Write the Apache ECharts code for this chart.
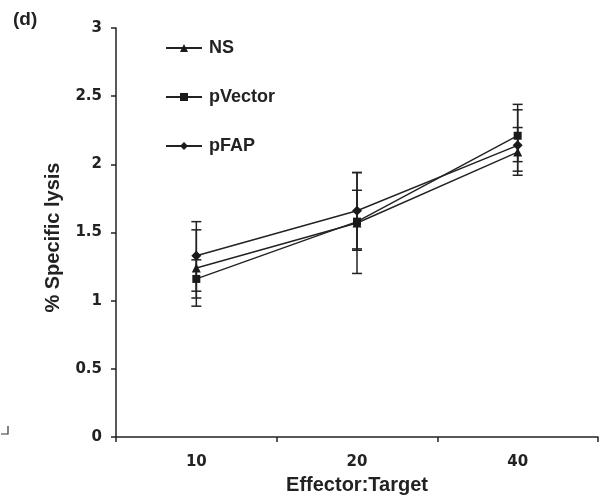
<!DOCTYPE html>
<html>
<head>
    <meta charset="utf-8">
    <title>ECharts</title>
    <script src="https://cdn.jsdelivr.net/npm/echarts@6/dist/echarts.min.js"></script>
</head>
<body style="margin:0">
    <div id="main" style="width: 609px;height:500px;"></div>
    <script type="text/javascript">
        var categories = ['10', '20', '40'];

        var nsMean = [1.24, 1.57, 2.09];
        var nsLow = [0.96, 1.20, 1.92];
        var nsHigh = [1.52, 1.94, 2.27];

        var pVectorMean = [1.16, 1.58, 2.21];
        var pVectorLow = [1.02, 1.37, 1.95];
        var pVectorHigh = [1.30, 1.81, 2.44];

        var pFapMean = [1.33, 1.66, 2.14];
        var pFapLow = [1.07, 1.38, 2.02];
        var pFapHigh = [1.58, 1.94, 2.40];

        var myChart = echarts.init(document.getElementById('main'));

        // 误差线: 竖线加上下短横
        function errorBars(low, high) {
            return {
                type: 'custom',
                silent: true,
                z: 1,
                data: categories.map(function (c, i) { return [i, low[i], high[i]]; }),
                renderItem: function (params, api) {
                    var lo = api.coord([api.value(0), api.value(1)]);
                    var hi = api.coord([api.value(0), api.value(2)]);
                    var w = 5;
                    var st = { stroke: '#222', lineWidth: 1.5 };
                    return {
                        type: 'group',
                        children: [
                            { type: 'line', shape: { x1: lo[0], y1: lo[1], x2: hi[0], y2: hi[1] }, style: st },
                            { type: 'line', shape: { x1: lo[0] - w, y1: lo[1], x2: lo[0] + w, y2: lo[1] }, style: st },
                            { type: 'line', shape: { x1: hi[0] - w, y1: hi[1], x2: hi[0] + w, y2: hi[1] }, style: st }
                        ]
                    };
                }
            };
        }

        function lineSeries(name, data, symbol, size) {
            return {
                name: name,
                type: 'line',
                data: data,
                z: 3,
                symbol: symbol,
                symbolSize: size,
                itemStyle: { color: '#1a1a1a' },
                lineStyle: { color: '#222', width: 1.4 }
            };
        }

        var textFont = 'Liberation Sans';
        var tickFont = 'DejaVu Sans';

        myChart.setOption({
            animation: false,
            title: {
                text: '(d)',
                left: 8,
                top: 5,
                textStyle: { fontFamily: textFont, fontWeight: 'bold', fontSize: 19, color: '#222' }
            },
            legend: {
                orient: 'vertical',
                left: 160,
                top: 34,
                itemGap: 31,
                itemWidth: 36,
                itemHeight: 10,
                data: ['NS', 'pVector', 'pFAP'],
                textStyle: { fontFamily: textFont, fontWeight: 'bold', fontSize: 18, color: '#222', padding: [0, 0, 0, 2] }
            },
            grid: { left: 116, right: 11, top: 28, bottom: 62, containLabel: false },
            xAxis: {
                type: 'category',
                data: categories,
                boundaryGap: true,
                name: 'Effector:Target',
                nameLocation: 'middle',
                nameGap: 37,
                nameTextStyle: { fontFamily: textFont, fontWeight: 'bold', fontSize: 20, color: '#222' },
                axisLine: { lineStyle: { color: '#222', width: 1.5 } },
                axisTick: { show: true, length: 5, lineStyle: { color: '#222', width: 1.5 } },
                axisLabel: { fontFamily: tickFont, fontWeight: 'bold', fontSize: 15, color: '#222', margin: 18 }
            },
            yAxis: {
                type: 'value',
                min: 0,
                max: 3,
                interval: 0.5,
                name: '% Specific lysis',
                nameLocation: 'middle',
                nameGap: 53,
                nameTextStyle: { fontFamily: textFont, fontWeight: 'bold', fontSize: 20, color: '#222', padding: [0, 10, 0, 0] },
                splitLine: { show: false },
                axisLine: { show: true, lineStyle: { color: '#222', width: 1.5 } },
                axisTick: { show: true, length: 5, lineStyle: { color: '#222', width: 1.5 } },
                axisLabel: { fontFamily: tickFont, fontWeight: 'bold', fontSize: 15, color: '#222', margin: 14 }
            },
            graphic: [{
                type: 'polyline',
                shape: { points: [[1, 434], [8, 434], [8, 426]] },
                style: { stroke: '#333', lineWidth: 1.2, fill: null }
            }],
            series: [
                errorBars(nsLow, nsHigh),
                errorBars(pVectorLow, pVectorHigh),
                errorBars(pFapLow, pFapHigh),
                lineSeries('NS', nsMean, 'triangle', 9),
                lineSeries('pVector', pVectorMean, 'rect', 8),
                lineSeries('pFAP', pFapMean, 'diamond', 10)
            ]
        });
    </script>
</body>
</html>
